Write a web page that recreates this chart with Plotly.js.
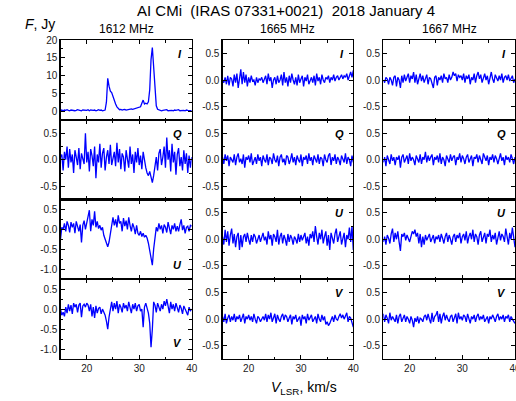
<!DOCTYPE html>
<html>
<head>
<meta charset="utf-8">
<script src="https://cdn.plot.ly/plotly-3.0.1.min.js"></script>
<style>html,body{margin:0;padding:0;background:#fff;}#chart{width:516px;height:401px;}</style>
</head>
<body>
<div id="chart"></div>
<script>
// ---- data ----
const velocity = [15,15.25,15.5,15.75,16,16.25,16.5,16.75,17,17.25,17.5,17.75,18,18.25,18.5,18.75,19,19.25,19.5,19.75,
20,20.25,20.5,20.75,21,21.25,21.5,21.75,22,22.25,22.5,22.75,23,23.25,23.5,23.75,24,24.25,24.5,24.75,
25,25.25,25.5,25.75,26,26.25,26.5,26.75,27,27.25,27.5,27.75,28,28.25,28.5,28.75,29,29.25,29.5,29.75,
30,30.25,30.5,30.75,31,31.25,31.5,31.75,32,32.25,32.5,32.75,33,33.25,33.5,33.75,34,34.25,34.5,34.75,
35,35.25,35.5,35.75,36,36.25,36.5,36.75,37,37.25,37.5,37.75,38,38.25,38.5,38.75,39,39.25,39.5,39.75,40];

const frequencies = ['1612 MHz', '1665 MHz', '1667 MHz'];
const stokes = ['I', 'Q', 'U', 'V'];

const i1612 = [0.2,0.3,0.1,0.3,0.2,0.4,0.2,0.1,0.3,0.2, 0.3,0.1,0.2,0.4,0.3,0.2,0.1,0.3,0.2,0.3,
0.2,0.4,0.1,0.3,0.2,0.2,0.3,0.1,0.2,0.4, 0.2,0.3,0.1,0.2,0.3,
2.5,9.2,7.0,5.6,5.2,4.0,3.0,2.0,1.2,0.6,0.4,
0.5,0.3,0.4,0.5,0.3,0.4,0.3,0.5,0.6,0.5,
0.6,0.8,0.7,1.0,0.9,1.2,2.2,3.1,2.0,2.2,2.0,2.6,6.0,14.5,17.9,12.0,5.0,1.5,0.5,
0.3,0.2,0.1,0.2,0.3,0.2,0.4,0.1,0.2,0.3, 0.2,0.1,0.3,0.2,0.2,0.4,0.1,0.2,0.3,0.2, 0.1,0.3,0.2,0.2,0.3,0.1];
const q1612 = [0.05,0.10,-0.20,0.15,0.00,0.25,-0.15,0.20,-0.05,0.10,
-0.25,0.18,0.05,-0.10,0.22,-0.18,0.12,0.00,-0.08,0.50,
-0.05,0.15,-0.22,0.20,0.08,-0.12,0.25,-0.35,0.10,-0.05,
0.30,-0.15,0.12,0.22,-0.20,0.05,0.18,-0.08,0.28,-0.10,
0.00,0.15,-0.12,0.32,-0.05,0.20,-0.18,0.12,0.05,-0.22,
0.18,0.02,-0.15,0.25,-0.08,0.10,-0.25,0.15,-0.05,0.22,
-0.10,0.08,-0.18,0.15,-0.02,-0.15,-0.25,-0.30,-0.22,-0.35,
-0.43,-0.30,-0.15,0.05,-0.20,0.12,0.20,-0.10,0.05,0.25,
-0.15,0.42,0.00,0.18,-0.22,0.30,-0.05,0.15,-0.28,0.10,
0.22,-0.12,0.05,-0.20,0.18,-0.08,0.12,-0.25,0.08,-0.15,0.05];
const u1612 = [-0.25,0.05,0.00,0.15,-0.05,0.20,0.10,-0.08,0.18,0.05,
0.15,-0.10,0.20,0.08,-0.05,0.12,-0.33,0.10,0.22,0.00,
0.15,0.30,0.48,-0.05,0.25,0.10,0.45,0.05,0.20,0.02,
0.10,-0.02,0.05,-0.15,-0.25,-0.30,-0.44,-0.32,-0.10,0.20,
0.30,0.10,0.25,0.05,0.35,0.15,0.20,-0.05,0.28,0.08,
0.22,0.00,0.30,0.10,-0.05,0.15,0.05,-0.12,0.10,-0.10,
-0.15,-0.05,-0.18,-0.10,-0.20,-0.15,-0.22,-0.35,-0.55,-0.80,
-0.90,-0.50,-0.12,0.05,-0.05,0.15,0.00,0.10,-0.10,0.12,
0.05,-0.08,0.18,0.02,-0.12,0.10,0.00,0.15,-0.05,0.08,
-0.05,0.12,0.25,-0.02,0.10,-0.10,0.05,0.08,-0.05,0.10,0.08];
const v1612 = [0.00,-0.15,-0.08,-0.18,0.05,-0.10,0.12,-0.05,0.10,-0.12,
0.15,0.05,0.12,-0.08,0.10,0.15,-0.20,0.08,0.12,0.05,
0.15,0.10,-0.05,0.12,-0.18,0.05,-0.22,0.08,-0.10,0.02,
0.05,-0.12,0.00,-0.08,-0.15,-0.30,-0.50,-0.20,0.05,0.18,
-0.05,0.15,0.00,0.20,-0.10,0.12,0.05,-0.08,0.15,0.02,
0.10,-0.05,0.18,0.05,-0.10,0.12,0.00,0.15,-0.05,0.08,
0.12,-0.05,0.00,-0.45,0.05,0.15,0.02,-0.10,-0.35,-0.95,
-0.50,0.18,0.10,-0.08,0.15,0.05,-0.05,0.12,0.00,0.20,
0.08,0.25,0.05,-0.10,0.18,0.00,0.12,-0.05,0.15,0.05,
-0.08,0.10,0.02,-0.12,0.08,0.00,-0.10,-0.15,0.05,-0.05,0.00];

const i1665 = [0.00,-0.05,0.05,-0.08,0.08,-0.10,0.05,0.02,-0.12,0.10,
-0.05,0.12,-0.15,0.05,0.20,-0.08,0.15,-0.05,0.10,-0.12,
0.05,-0.05,0.08,-0.02,0.00,-0.10,0.05,-0.05,0.02,0.00,
0.05,-0.05,0.02,0.08,-0.08,0.12,-0.02,0.05,-0.15,0.00,
0.05,-0.08,0.08,-0.05,0.00,0.10,-0.10,0.15,-0.05,0.05,
-0.12,0.08,-0.05,0.12,0.00,-0.08,0.05,-0.10,0.10,-0.05,
0.02,0.08,-0.12,0.05,-0.02,0.10,-0.08,0.00,0.05,-0.05,
0.08,-0.10,0.12,-0.02,0.05,-0.08,0.10,0.00,-0.05,0.05,
0.02,0.08,-0.05,0.05,0.00,0.10,-0.02,0.05,0.08,0.00,
0.05,0.10,0.02,0.08,0.05,0.12,0.00,0.08,0.15,0.05,0.18];
const q1665 = [0.05,-0.08,0.10,-0.02,0.08,-0.12,0.05,0.00,-0.05,0.10,
-0.10,0.05,0.12,-0.05,0.02,-0.08,0.10,-0.15,0.05,0.00,
0.08,-0.05,0.12,-0.10,0.00,0.05,-0.08,0.10,-0.02,0.05,
-0.12,0.08,0.00,-0.05,0.10,-0.10,0.05,0.02,-0.08,0.12,
0.00,-0.05,0.08,-0.12,0.05,0.10,-0.05,0.02,-0.10,0.08,
0.05,-0.08,0.00,0.12,-0.05,0.05,-0.10,0.08,0.00,-0.05,
0.10,-0.12,0.05,0.00,0.08,-0.08,0.12,-0.02,0.05,-0.10,
0.08,0.00,-0.05,0.10,-0.08,0.05,0.02,-0.12,0.10,0.00,
-0.05,0.08,0.12,-0.10,0.05,-0.02,0.10,-0.08,0.05,0.00,
-0.10,0.08,0.02,-0.05,0.12,-0.08,0.05,0.00,-0.12,0.08,-0.05];
const u1665 = [0.05,-0.10,0.18,-0.05,0.15,-0.12,0.08,0.20,-0.08,0.10,
-0.15,0.05,0.12,-0.20,0.08,-0.15,0.05,0.10,-0.05,0.12,
0.00,-0.10,0.08,-0.05,0.10,0.05,-0.08,0.02,0.08,-0.05,
0.05,0.12,-0.02,0.05,-0.10,0.15,0.00,0.08,-0.12,0.10,
0.05,-0.05,0.18,-0.10,0.05,0.12,-0.08,0.08,0.00,-0.12,
0.10,-0.05,0.08,0.02,-0.10,0.05,0.00,-0.08,0.10,-0.05,
0.08,-0.02,0.05,0.12,-0.08,0.05,-0.12,0.10,0.02,0.15,
-0.05,0.25,0.05,-0.10,0.12,0.00,0.18,-0.08,0.05,0.15,
-0.12,0.08,-0.20,0.12,0.02,-0.08,0.10,0.20,-0.05,0.08,
0.15,-0.10,0.05,0.12,-0.15,0.08,0.00,0.22,-0.05,0.25,-0.20];
const v1665 = [0.05,-0.05,0.10,-0.08,0.02,0.08,-0.05,0.05,-0.02,0.10,
-0.05,0.05,0.00,0.08,-0.05,0.02,0.10,-0.08,0.05,0.00,
0.08,-0.02,0.05,-0.05,0.10,0.00,-0.08,0.05,0.02,-0.05,
0.00,0.05,-0.02,0.10,-0.05,0.08,0.00,0.12,-0.05,0.05,
0.10,-0.08,0.08,0.00,-0.05,0.05,0.10,-0.02,0.08,0.05,
-0.05,0.02,0.08,-0.10,0.05,0.00,0.08,-0.05,0.02,0.05,
-0.12,0.08,0.00,0.05,-0.08,0.10,-0.02,0.05,0.08,-0.05,
0.02,0.05,-0.08,0.10,0.00,-0.05,0.08,-0.02,0.05,-0.10,
-0.05,-0.12,-0.08,0.00,0.05,-0.05,0.08,0.00,-0.02,0.05,
0.10,0.02,0.08,0.00,0.05,0.12,-0.05,0.05,0.02,-0.05,-0.15];

const i1667 = [0.00,-0.05,0.05,0.02,-0.08,0.05,0.00,-0.10,0.05,0.08,
-0.12,0.05,0.00,-0.15,0.08,-0.05,0.10,-0.02,0.05,0.12,
-0.05,0.08,0.02,0.15,-0.05,0.10,-0.08,0.05,0.12,-0.02,
0.08,-0.05,0.05,0.10,-0.08,0.05,0.02,-0.05,-0.15,0.05,
0.08,-0.10,0.05,0.00,0.08,-0.05,0.12,0.02,0.05,-0.05,
0.10,0.00,0.05,0.15,0.08,0.12,-0.02,0.10,0.05,0.08,
0.00,0.12,-0.05,0.08,0.02,0.10,-0.08,0.05,0.00,0.12,
-0.05,0.08,0.15,0.02,0.10,-0.05,0.05,0.12,0.00,0.08,
-0.08,0.05,0.15,0.02,-0.05,0.10,0.05,-0.02,0.08,0.00,
0.12,-0.05,0.05,0.08,0.00,0.10,-0.02,0.05,0.08,-0.05,0.02];
const q1667 = [-0.05,0.05,-0.12,0.08,0.00,-0.08,0.10,-0.02,0.05,-0.10,
0.05,0.00,0.08,-0.15,0.05,0.10,-0.05,0.02,0.08,-0.08,
0.12,-0.02,0.05,0.00,-0.10,0.08,0.02,-0.05,0.10,-0.08,
0.05,0.00,0.15,-0.05,0.08,-0.02,0.05,0.10,-0.10,0.05,
0.00,0.08,-0.05,0.12,-0.08,0.05,0.00,-0.12,0.08,0.02,
-0.05,0.10,-0.02,0.05,0.08,-0.10,0.05,0.00,0.12,-0.05,
0.08,0.02,-0.08,0.05,0.10,-0.05,0.00,0.08,-0.12,0.05,
0.02,0.10,-0.05,0.08,0.00,-0.08,0.12,0.05,-0.02,0.08,
-0.10,0.05,0.00,0.10,-0.05,0.08,0.02,-0.08,0.05,0.12,
-0.02,0.05,-0.10,0.08,0.00,0.05,-0.05,0.10,0.02,-0.08,0.05];
const u1667 = [-0.05,0.05,-0.10,0.08,0.02,-0.08,0.10,0.20,-0.05,0.12,
0.00,0.15,-0.05,-0.22,0.10,0.05,0.12,-0.02,0.08,0.00,
-0.05,0.05,0.15,0.10,0.18,0.05,0.12,-0.08,0.10,-0.15,
0.05,-0.10,0.08,-0.02,0.05,0.10,-0.05,0.02,0.08,-0.08,
0.05,0.00,0.08,-0.05,0.10,0.02,-0.08,0.05,0.12,-0.05,
0.08,0.00,-0.10,0.05,0.10,-0.05,0.08,0.02,0.12,-0.08,
0.05,0.10,-0.02,0.15,-0.08,0.05,0.12,0.00,0.18,-0.05,
0.10,0.05,-0.10,0.08,0.15,-0.05,0.02,0.12,-0.08,0.10,
0.05,0.18,-0.05,0.08,0.00,0.12,-0.10,0.05,0.15,-0.02,
0.10,0.05,-0.05,0.20,0.08,-0.10,0.12,0.00,0.22,0.05,-0.15];
const v1667 = [0.10,-0.05,0.08,0.02,-0.08,0.12,-0.02,0.05,0.00,-0.05,
0.08,-0.08,0.05,0.10,-0.05,0.02,0.08,-0.05,0.05,0.00,
-0.08,0.05,-0.02,-0.15,0.02,-0.05,0.05,-0.08,0.02,0.00,
-0.05,0.05,0.08,-0.02,0.10,0.00,-0.08,0.12,-0.05,0.05,
0.08,0.15,-0.05,0.10,-0.08,0.05,0.12,-0.02,0.08,0.00,
-0.05,0.05,0.08,-0.05,0.02,0.10,-0.08,0.12,0.00,0.05,
-0.02,0.08,0.05,-0.05,0.10,0.02,-0.08,0.05,0.00,0.08,
-0.05,0.05,0.10,-0.02,0.05,0.00,0.08,-0.05,0.02,0.05,
-0.08,0.05,0.00,0.08,0.02,-0.05,0.05,0.10,-0.02,0.05,
0.00,0.08,-0.05,0.05,0.02,0.08,-0.05,0.05,0.00,-0.05,-0.08];

const xTickVals = [20, 30, 40];
const xTickText = ['20', '30', '40'];
const yTickValsI1612 = [0, 5, 10, 15, 20];
const yTickTextI1612 = ['0', '5', '10', '15', '20'];
const yTickValsPol1612 = [-1.0, -0.5, 0.0, 0.5];
const yTickTextPol1612 = ['-1.0', '-0.5', '0.0', '0.5'];
const yTickValsSmall = [-0.5, 0.0, 0.5];
const yTickTextSmall = ['-0.5', '0.0', '0.5'];

// grid: rows = stokes, cols = frequencies
const series = [
  [i1612, i1665, i1667],
  [q1612, q1665, q1667],
  [u1612, u1665, u1667],
  [v1612, v1665, v1667]
];

// ---- layout geometry (pixels) ----
const W = 516, H = 401;
const colPx = [[60.5, 191.7], [222.5, 353.3], [383.3, 515]];
const rowPx = [[40, 120], [120, 199.5], [199.5, 279], [279, 359.3]];
const FONT = 'Liberation Sans, Arial, sans-serif';

const traces = [];
const layout = {
  width: W, height: H, autosize: false,
  margin: {l: 0, r: 0, t: 0, b: 0},
  paper_bgcolor: '#fff', plot_bgcolor: 'rgba(0,0,0,0)',
  showlegend: false,
  font: {family: FONT, color: '#222'},
  annotations: []
};

for (let r = 0; r < 4; r++) {
  for (let c = 0; c < 3; c++) {
    const k = r * 3 + c + 1;
    const sfx = k === 1 ? '' : String(k);
    traces.push({
      type: 'scatter', mode: 'lines',
      x: velocity, y: series[r][c],
      xaxis: 'x' + sfx, yaxis: 'y' + sfx,
      line: {color: '#0000ff', width: 1.3},
      hoverinfo: 'skip'
    });
    const common = {
      showline: true, linecolor: '#000', linewidth: 1.1, mirror: 'ticks',
      ticks: 'inside', ticklen: 4, tickwidth: 1, tickcolor: '#000',
      showgrid: false, zeroline: false, fixedrange: true,
      ticklabeloverflow: 'allow',
      tickfont: {family: FONT, size: 10, color: '#222'}
    };
    layout['xaxis' + sfx] = Object.assign({}, common, {
      domain: [colPx[c][0] / W, colPx[c][1] / W],
      anchor: 'y' + sfx,
      range: [15, 40],
      tickmode: 'array', tickvals: xTickVals, ticktext: xTickText,
      showticklabels: r === 3,
      minor: {tickmode: 'array', tickvals: [15, 25, 35], ticks: 'inside', ticklen: 2.5, tickcolor: '#000'}
    });
    let yr, tv, tt, minorVals;
    if (c === 0 && r === 0) { yr = [-2.5, 20]; tv = yTickValsI1612; tt = yTickTextI1612; minorVals = [2.5, 7.5, 12.5, 17.5]; }
    else if (c === 0 && r >= 2) { yr = [-1.25, 0.75]; tv = yTickValsPol1612; tt = yTickTextPol1612; minorVals = [-0.75, -0.25, 0.25]; }
    else { yr = [-0.75, 0.75]; tv = yTickValsSmall; tt = yTickTextSmall; minorVals = [-0.25, 0.25]; }
    layout['yaxis' + sfx] = Object.assign({}, common, {
      domain: [1 - rowPx[r][1] / H, 1 - rowPx[r][0] / H],
      anchor: 'x' + sfx,
      range: yr,
      tickmode: 'array', tickvals: tv, ticktext: tt,
      minor: {tickmode: 'array', tickvals: minorVals, ticks: 'inside', ticklen: 2.5, tickcolor: '#000'}
    });
    const bottomLabel = (c === 0 && r >= 2);
    layout.annotations.push({
      xref: 'x' + sfx + ' domain', yref: 'y' + sfx + ' domain',
      x: 0.945, y: bottomLabel ? (r === 2 ? 0.175 : 0.2) : 0.83,
      xanchor: 'right', yanchor: 'middle', showarrow: false,
      text: '<b><i>' + stokes[r] + '</i></b>',
      font: {family: FONT, size: 11, color: '#000'}
    });
  }
}

// column titles
for (let c = 0; c < 3; c++) {
  layout.annotations.push({
    xref: 'paper', yref: 'paper',
    x: (colPx[c][0] + colPx[c][1]) / 2 / W, y: 1 - 29 / H,
    xanchor: 'center', yanchor: 'middle', showarrow: false,
    text: frequencies[c], font: {family: FONT, size: 12, color: '#000'}
  });
}
// main title
layout.annotations.push({
  xref: 'paper', yref: 'paper', x: 286 / W, y: 1 - 11 / H,
  xanchor: 'center', yanchor: 'middle', showarrow: false,
  text: 'AI CMi&nbsp; (IRAS 07331+0021)&nbsp; 2018 January 4',
  font: {family: FONT, size: 15, color: '#000'}
});
// y label
layout.annotations.push({
  xref: 'paper', yref: 'paper', x: 40 / W, y: 1 - 24 / H,
  xanchor: 'center', yanchor: 'middle', showarrow: false,
  text: '<i>F</i>, Jy', font: {family: FONT, size: 14, color: '#000'}
});
// x label
layout.annotations.push({
  xref: 'paper', yref: 'paper', x: 304 / W, y: 1 - 388 / H,
  xanchor: 'center', yanchor: 'middle', showarrow: false,
  text: '<i>V</i><sub>LSR</sub>, km/s', font: {family: FONT, size: 14, color: '#000'}
});

Plotly.newPlot('chart', traces, layout, {staticPlot: true, displayModeBar: false});
</script>
</body>
</html>
